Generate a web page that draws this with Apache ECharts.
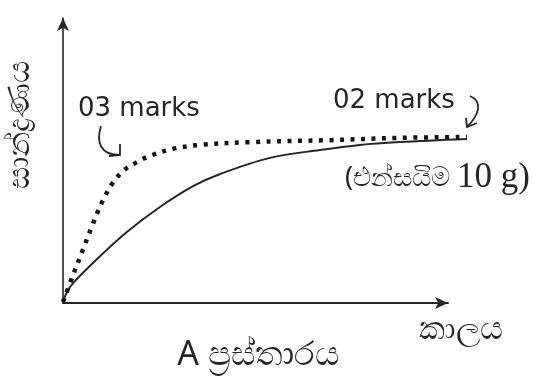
<!DOCTYPE html>
<html>
<head>
<meta charset="utf-8">
<script src="https://cdn.jsdelivr.net/npm/echarts@6/dist/echarts.min.js"></script>
<style>
  html, body { margin: 0; padding: 0; background: #ffffff; }
  #chart { width: 556px; height: 383px; }
</style>
</head>
<body>
<div id="chart"></div>
<script>
// Reaction progress with time (relative scale 0–100 on both axes)
const solidTime   = [0, 1.7, 7.4, 15.8, 24.0, 32.2, 38.9, 51.2, 63.6, 73.5, 83.4, 100];
const solidLevel  = [0, 5.3, 13.8, 24.8, 33.7, 41.1, 45.4, 51.1, 53.9, 55.7, 56.7, 57.8];
const dottedTime  = [0, 2.5, 4.7, 7.2, 9.7, 12.1, 14.9, 18.3, 21.5, 27.2, 33.9, 46.3, 66.1, 83.4, 100];
const dottedLevel = [0, 9.6, 17.7, 27.0, 35.5, 41.8, 46.5, 49.6, 51.8, 54.3, 55.7, 56.7, 57.4, 58.2, 58.5];

const yTitle = 'සාන්ද්‍රණය';
const xTitle = 'කාලය';
const chartTitle = 'A ප්‍රස්තාරය';
const noteDotted = '03 marks';
const noteSolid = '02 marks';
const noteEnzyme = '(එන්සයිම ';
const noteMass = '10 g)';

const ink = '#262626';
const pairs = (xs, ys) => xs.map((x, i) => [x, ys[i]]);

const chart = echarts.init(document.getElementById('chart'), null, { renderer: 'canvas' });
chart.setOption({
  backgroundColor: '#ffffff',
  animation: false,
  grid: [
    { left: 63, top: 20, width: 404, height: 282 },
    { left: 63, top: 18, width: 385, height: 285 }
  ],
  xAxis: [
    { gridIndex: 0, type: 'value', min: 0, max: 100, show: false },
    {
      gridIndex: 1, type: 'value', min: 0, max: 100,
      axisLine: { show: true, symbol: ['none', 'arrow'], symbolSize: [9, 13], lineStyle: { color: ink, width: 2 } },
      axisTick: { show: false }, axisLabel: { show: false }, splitLine: { show: false }
    }
  ],
  yAxis: [
    { gridIndex: 0, type: 'value', min: 0, max: 100, show: false },
    {
      gridIndex: 1, type: 'value', min: 0, max: 100,
      axisLine: { show: true, symbol: ['none', 'arrow'], symbolSize: [9, 13], lineStyle: { color: ink, width: 1.6 } },
      axisTick: { show: false }, axisLabel: { show: false }, splitLine: { show: false }
    }
  ],
  series: [
    {
      type: 'line', xAxisIndex: 0, yAxisIndex: 0,
      data: pairs(solidTime, solidLevel),
      smooth: 0.35, showSymbol: false,
      lineStyle: { color: ink, width: 2 }
    },
    {
      type: 'line', xAxisIndex: 0, yAxisIndex: 0,
      data: pairs(dottedTime, dottedLevel),
      smooth: 0.35, showSymbol: false,
      lineStyle: { color: '#151515', width: 4.5, type: [4, 6.5], cap: 'butt' }
    }
  ],
  graphic: [
    {
      type: 'text', x: 20, y: 125, rotation: Math.PI / 2,
      style: { text: yTitle, font: '31px "Noto Sans", sans-serif', fill: ink, align: 'center', verticalAlign: 'middle' }
    },
    {
      type: 'text', x: 461, y: 330,
      style: { text: xTitle, font: '32px "Noto Sans", sans-serif', fill: ink, align: 'center', verticalAlign: 'middle' }
    },
    {
      type: 'text', x: 258, y: 355,
      style: { text: chartTitle, font: '34px "Noto Sans", sans-serif', fill: ink, align: 'center', verticalAlign: 'middle' }
    },
    {
      type: 'text', x: 78, y: 109,
      style: { text: noteDotted, font: '26px "DejaVu Sans", sans-serif', fill: ink, align: 'left', verticalAlign: 'middle' }
    },
    {
      type: 'text', x: 333, y: 101,
      style: { text: noteSolid, font: '26px "DejaVu Sans", sans-serif', fill: ink, align: 'left', verticalAlign: 'middle' }
    },
    {
      type: 'text', x: 345, y: 178,
      style: {
        text: '{a|' + noteEnzyme + '}{b|' + noteMass + '}',
        align: 'left', verticalAlign: 'middle', fill: ink,
        rich: {
          a: { font: '27px "Noto Sans", sans-serif', fill: ink },
          b: { font: '35px "Liberation Serif", serif', fill: ink }
        }
      }
    },
    // hooked pointer to the dotted curve
    {
      type: 'bezierCurve',
      shape: { x1: 101, y1: 126, cpx1: 96, cpy1: 142, cpx2: 100, cpy2: 155, x2: 120, y2: 155 },
      style: { stroke: ink, lineWidth: 1.8, fill: null }
    },
    {
      type: 'polyline',
      shape: { points: [[120, 144], [120, 155], [109, 156]] },
      style: { stroke: ink, lineWidth: 1.8, fill: null }
    },
    // hooked pointer to the solid curve
    {
      type: 'bezierCurve',
      shape: { x1: 470, y1: 96, cpx1: 484, cpy1: 102, cpx2: 478, cpy2: 116, x2: 467, y2: 127 },
      style: { stroke: ink, lineWidth: 1.8, fill: null }
    },
    {
      type: 'polyline',
      shape: { points: [[466, 118], [467, 127], [477, 123]] },
      style: { stroke: ink, lineWidth: 1.8, fill: null }
    }
  ]
});
</script>
</body>
</html>
